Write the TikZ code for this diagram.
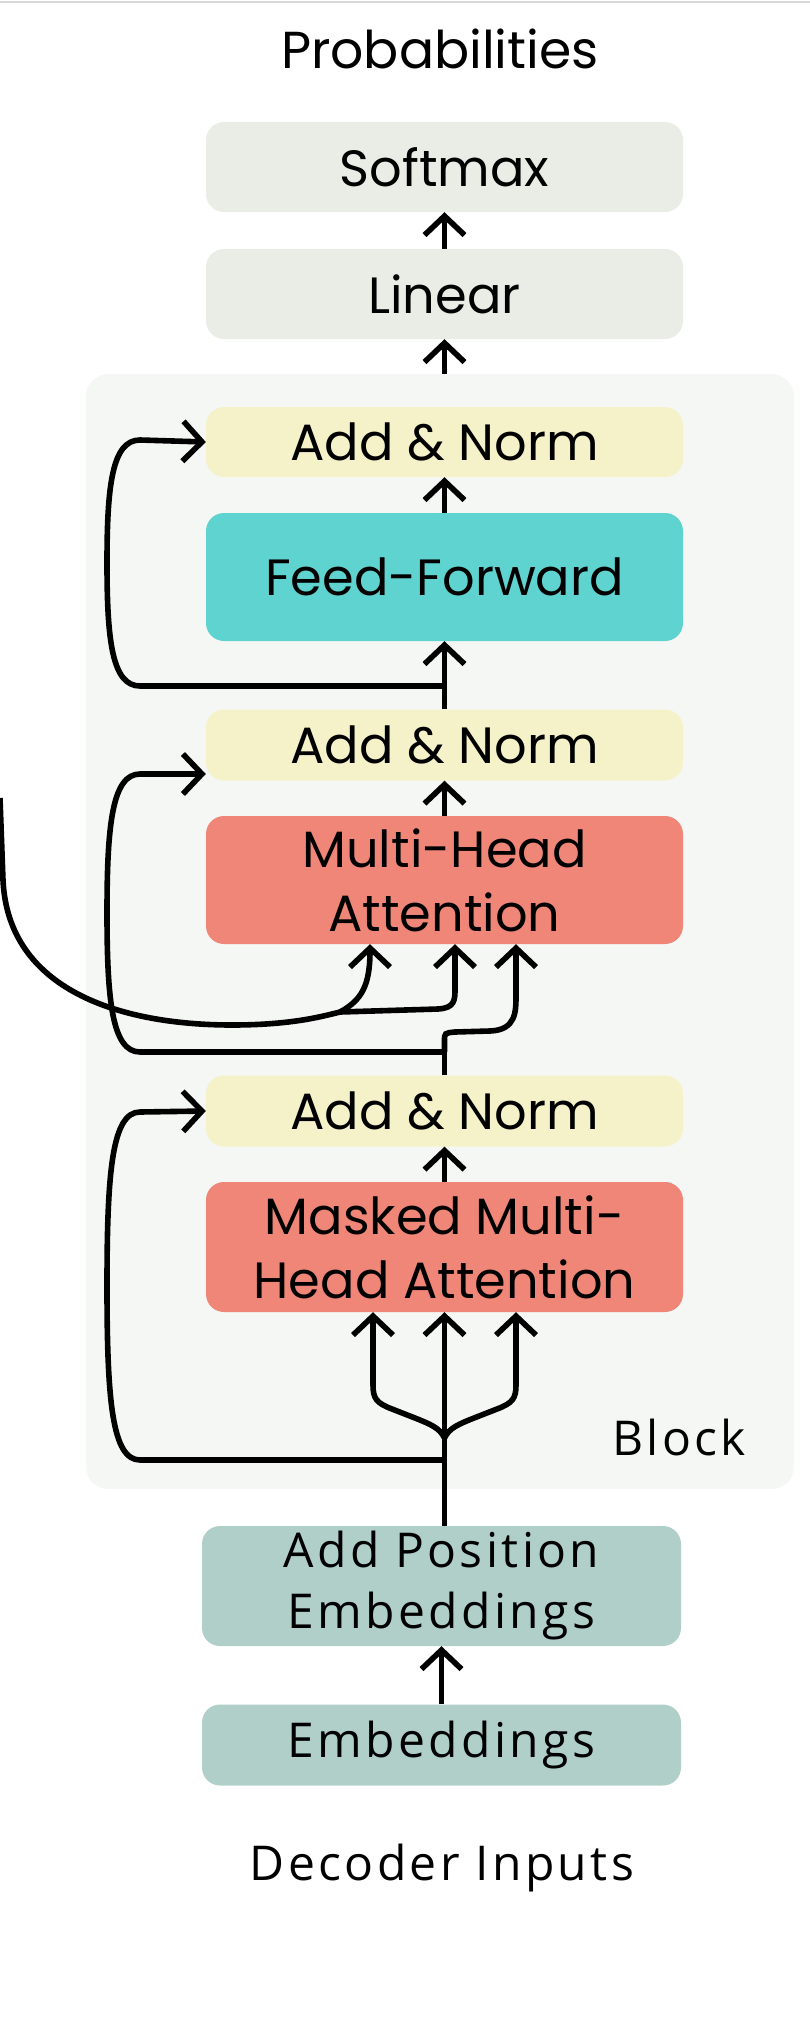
\documentclass[tikz,border=0pt]{standalone}
\usepackage{fontspec}
\setmainfont{Poppins}
\newfontfamily\osfont[LetterSpace=7]{Open Sans}
\usetikzlibrary{arrows.meta}
\definecolor{cgray}{HTML}{EAEDE5}
\definecolor{cyel}{HTML}{F5F2C9}
\definecolor{cteal}{HTML}{5FD3CF}
\definecolor{csalm}{HTML}{EF8677}
\definecolor{cemb}{HTML}{B0CFC9}
\definecolor{cblock}{HTML}{F5F7F4}
\definecolor{ctop}{HTML}{D9D9D9}
\tikzset{
  box/.style={rounded corners=18pt, minimum width=477pt, inner sep=0pt, align=center, text=black,
    font=\fontsize{51}{64}\selectfont},
  embbox/.style={box, fill=cemb, minimum width=479pt, font=\osfont\fontsize{48}{61}\selectfont},
  lbl/.style={inner sep=0pt, font=\fontsize{52}{60}\selectfont},
  oslbl/.style={inner sep=0pt, font=\osfont\fontsize{48}{54}\selectfont},
  wire/.style={line width=5.6pt, draw=black},
  arr/.style={wire, -{Straight Barb[length=19pt,width=40pt,line width=5.6pt]}},
}
\begin{document}
\begin{tikzpicture}[x=1pt,y=-1pt]
\useasboundingbox (0,0) rectangle (810,2018);
\draw[ctop, line width=2.5pt] (0,2) -- (810,2);
% block background
\node[fill=cblock, rounded corners=22pt, minimum width=708pt, minimum height=1115pt, inner sep=0pt] (blk) at (440,931.5) {};
\node[oslbl] (blklbl) at (679,1437) {Block};

\node[lbl] (prob) at (440,49) {Probabilities};
\node[box, fill=cgray, minimum height=90pt] (softmax) at (444.5,167) {Softmax};
\node[box, fill=cgray, minimum height=90pt] (linear) at (444.5,294) {Linear};
\node[box, fill=cyel, minimum height=70pt] (an3) at (444.5,442) {Add \& Norm};
\node[box, fill=cteal, minimum height=128pt] (ff) at (444.5,577) {Feed-Forward};
\node[box, fill=cyel, minimum height=71pt] (an2) at (444.5,745) {Add \& Norm};
\node[box, fill=csalm, minimum height=128pt] (mha) at (444.5,880) {Multi-Head\\Attention};
\node[box, fill=cyel, minimum height=71pt] (an1) at (444.5,1111) {Add \& Norm};
\node[box, fill=csalm, minimum height=130pt] (mmha) at (444.5,1247) {Masked Multi-\\Head Attention};
\node[embbox, minimum height=120pt] (ape) at (441.5,1586) {Add Position\\Embeddings};
\node[embbox, minimum height=81pt] (emb) at (441.5,1745) {Embeddings};
\node[oslbl] (dec) at (442,1868) {Decoder Inputs};

% straight connectors
\draw[arr] (linear.north) -- (softmax.south);
\draw[arr] (linear.south |- blk.north) -- (linear.south);
\draw[arr] (ff.north) -- (an3.south);
\draw[arr] (an2.north) -- (ff.south);
\draw[arr] (mha.north) -- (an2.south);
\draw[arr] (mmha.north) -- (an1.south);
\draw[arr] (emb.north) -- (ape.south);

% top residual
\coordinate (j3) at (444.5,686);
\draw[arr] (j3) -- (140,686) .. controls (112,686) and (107,640) .. (107,563)
   .. controls (107,486) and (112,440) .. (140,440) -- (an3.west);

% middle residual and third input
\coordinate (j2) at (444.5,1052);
\draw[wire] (an1.north) -- (j2);
\draw[arr] (j2) -- (140,1052) .. controls (112,1052) and (107,1000) .. (107,913)
   .. controls (107,826) and (112,774) .. (140,774) -- ([yshift=-29pt]an2.west);
\draw[arr] (j2) -- (444.5,1041) .. controls (444.5,1033) .. (455,1032) -- (490,1031)
   .. controls (516,1030) and (516,1012) .. (516,995) -- ([xshift=71.5pt]mha.south);

% encoder input
\coordinate (enc) at (0,798);
\coordinate (split) at (340,1012);
\draw[wire] (enc) -- (3,880) .. controls (8,990) and (120,1025) .. (232,1025)
   .. controls (290,1025) and (320,1017) .. (split);
\draw[arr] (split) .. controls (362,1000) and (370,985) .. ([xshift=-74.5pt]mha.south);
\draw[arr] (split) -- (438,1009) .. controls (455,1008) and (455,1000) .. (455,988) -- ([xshift=10.5pt]mha.south);

% bottom residual and fork
\coordinate (j1) at (444.5,1460);
\coordinate (fork) at (444.5,1438);
\draw[wire] (ape.north -| j1) -- (j1);
\draw[arr] (j1) -- (mmha.south);
\draw[arr] (j1) -- (140,1460) .. controls (112,1460) and (107,1400) .. (107,1286)
   .. controls (107,1172) and (112,1112) .. (140,1112) -- (an1.west);
\draw[arr] (fork) .. controls (440,1428) and (430,1424) .. (415,1418) -- (392,1409)
   .. controls (376,1403) and (373,1398) .. (373,1385) -- ([xshift=-71.5pt]mmha.south);
\draw[arr] (fork) .. controls (449,1428) and (459,1424) .. (474,1418) -- (497,1409)
   .. controls (513,1403) and (516,1398) .. (516,1385) -- ([xshift=71.5pt]mmha.south);
\end{tikzpicture}
\end{document}
